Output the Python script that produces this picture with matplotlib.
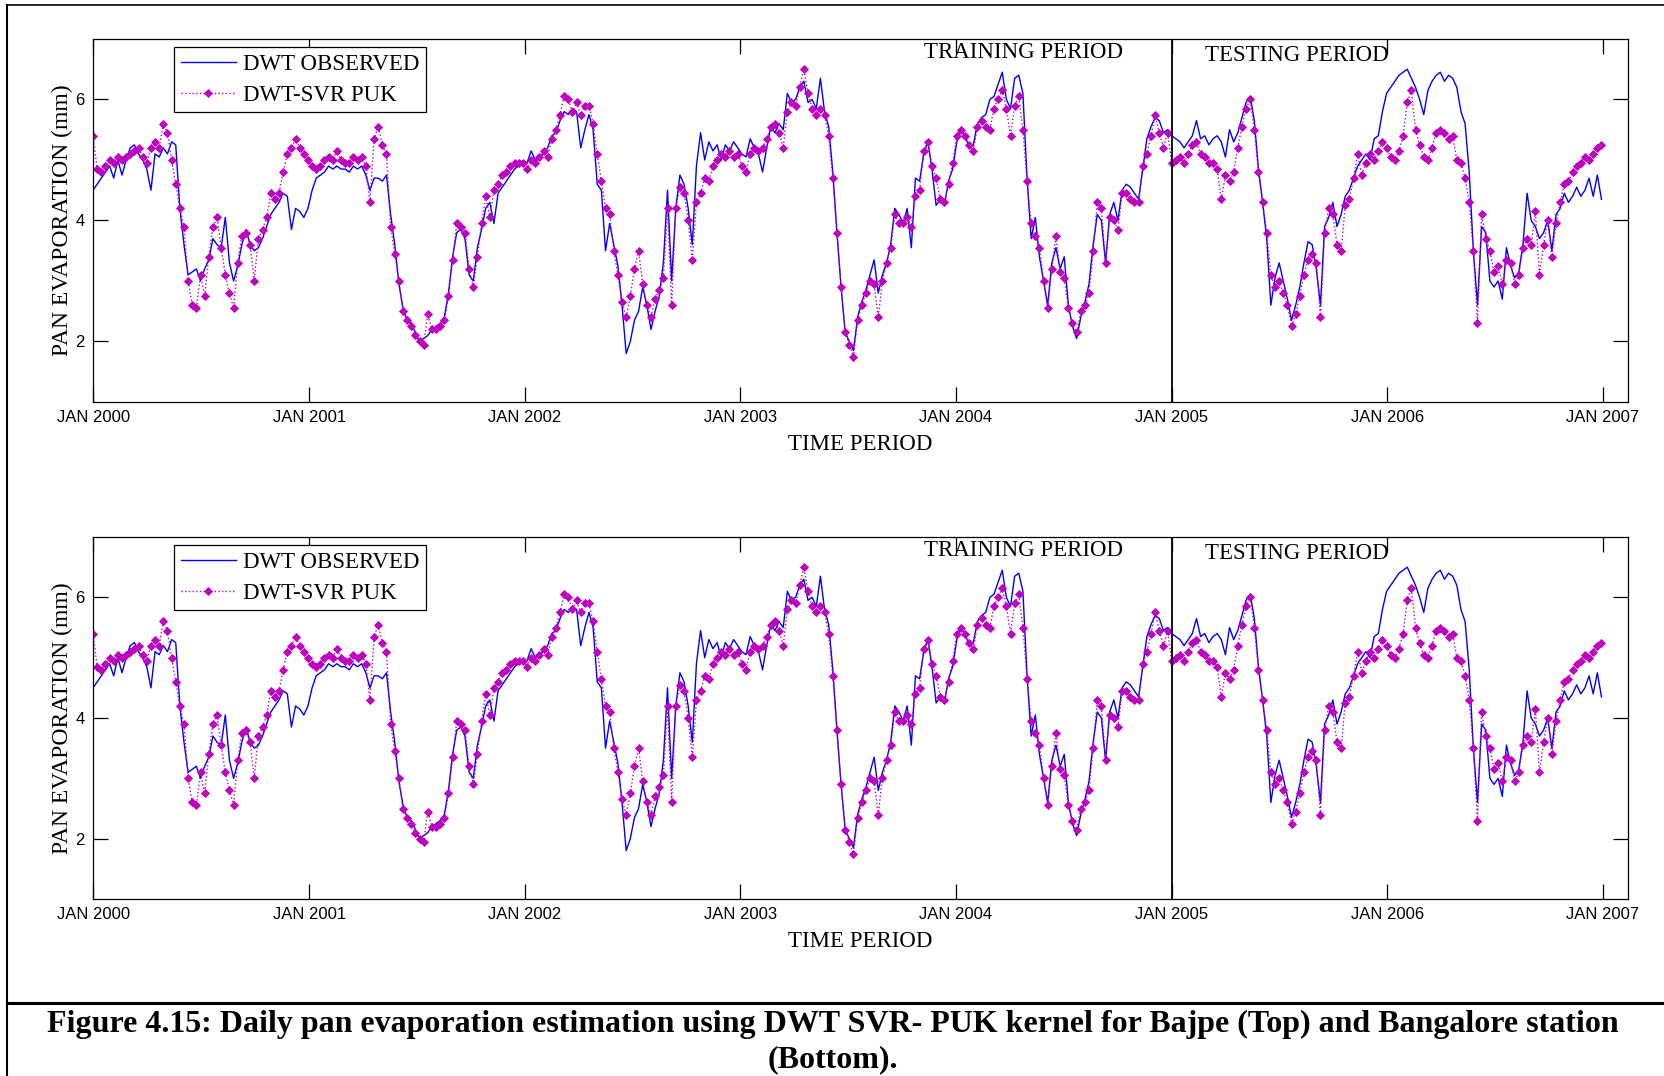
# daily pan evaporation, DWT observed vs DWT-SVR PUK (weekly readings)
import pandas as pd
import matplotlib as mpl
import matplotlib.pyplot as plt
from matplotlib.lines import Line2D

# observed values, one per week from 1 Jan 2000
evap_obs = [
    4.5, 4.6, 4.7, 4.8, 4.9, 4.7, 5.0, 4.75, 5.0, 5.2, 5.25, 5.1, 5.0,
    4.85, 4.5, 5.1, 5.05, 5.2, 5.1, 5.3, 5.25, 4.2, 3.6, 3.1, 3.15, 3.2,
    3.0, 3.2, 3.35, 3.7, 3.6, 3.55, 4.05, 3.3, 3.0, 3.25, 3.6, 3.85, 3.6,
    3.5, 3.55, 3.7, 3.9, 4.1, 4.2, 4.3, 4.45, 4.4, 3.85, 4.2, 4.15, 4.05,
    4.2, 4.5, 4.7, 4.75, 4.8, 4.9, 4.85, 4.9, 4.85,
    4.85, 4.8, 4.9, 4.85, 4.9, 4.75, 4.5, 4.7, 4.7, 4.65, 4.75, 4.1,
    3.6, 2.95, 2.55, 2.35, 2.3, 2.15, 2.0, 2.05, 2.1, 2.2, 2.25, 2.3,
    2.4, 2.8, 3.4, 3.8, 3.85, 3.7, 3.1, 3.0, 3.55, 3.85, 4.2, 4.3,
    3.95, 4.45, 4.55, 4.65, 4.75, 4.85, 4.9, 4.95, 4.95, 5.15, 5.0, 5.05,
    5.1, 5.2, 5.4, 5.45, 5.65, 5.8, 5.75, 5.85, 5.8, 5.2, 5.5, 5.75, 5.5, 4.6,
    4.5, 3.5, 3.95, 3.6, 3.25, 2.6, 1.8, 2.0, 2.35, 2.5, 2.9, 2.6,
    2.2, 2.5, 2.75, 3.3, 4.5, 3.0, 4.2, 4.75, 4.6, 4.2, 3.6, 4.9,
    5.45, 5.0, 5.3, 5.15, 5.25, 5.0, 5.25, 5.15, 5.3, 5.2, 5.1, 5.05,
    5.35, 5.2, 5.1, 4.8, 5.2, 5.55, 5.45, 5.6, 5.5, 6.1, 5.95, 6.0,
    6.2, 6.3, 5.95, 6.0, 5.85, 6.35, 5.8, 5.55, 4.8, 3.8, 2.9, 2.15,
    2.0, 1.85, 2.4, 2.65, 2.85, 3.1, 3.35, 2.8, 3.1, 3.3, 3.6, 4.2,
    4.1, 3.95, 4.2, 3.55, 4.7, 4.65, 5.1, 5.3, 4.85, 4.25, 4.35, 4.25,
    4.65, 4.85, 5.3, 5.5, 5.4, 5.2, 5.25, 5.6, 5.7, 5.75, 6.0, 6.05,
    6.25, 6.45, 6.0, 5.85, 6.35, 6.4, 6.1, 4.7, 3.7, 4.05, 3.4, 3.0,
    2.6, 3.3, 3.55, 3.2, 3.4, 2.6, 2.25, 2.05, 2.4, 2.65, 2.95, 3.6, 4.1,
    4.0, 3.3, 4.1, 4.3, 4.0, 4.5, 4.6, 4.55, 4.45, 4.35, 4.85, 5.35,
    5.55, 5.7, 5.65, 5.45, 5.5, 5.4, 5.35, 5.3, 5.2, 5.3, 5.4, 5.65,
    5.35, 5.4, 5.25, 5.35, 5.4, 5.3, 5.05, 5.5, 5.3, 5.45, 5.7, 5.95,
    6.05, 5.65, 4.85, 4.3, 3.7, 2.6, 3.05, 3.3, 3.0, 2.7, 2.35, 2.6,
    2.9, 3.3, 3.65, 3.6, 3.2, 2.6, 3.9, 4.05, 4.3, 3.9, 4.1, 4.4, 4.5, 4.7, 4.9,
    5.0, 5.1, 5.0, 5.35, 5.4, 5.8, 6.1, 6.2, 6.3, 6.4, 6.45, 6.5,
    6.35, 6.2, 6.0, 5.75, 6.15, 6.3, 6.4, 6.45, 6.3, 6.4, 6.35, 6.2,
    5.8, 5.6, 4.8, 3.5, 2.6, 3.9, 3.8, 3.0, 2.9, 3.0, 2.7, 3.55,
    3.25, 3.05, 3.15, 3.6, 4.45, 4.0, 3.9, 3.7, 3.8, 4.0, 3.5, 4.1,
    4.2, 4.45, 4.3, 4.4, 4.55, 4.4, 4.5, 4.7, 4.4, 4.75, 4.35,
]

# model estimates, same weeks
evap_svr = [
    5.4, 4.85, 4.8, 4.9, 5.0, 4.95, 5.05, 5.0, 5.05, 5.1, 5.15, 5.2, 5.05,
    4.95, 5.2, 5.3, 5.2, 5.6, 5.45, 5.0, 4.6, 4.2, 3.9, 3.0, 2.6, 2.55,
    3.1, 2.75, 3.4, 3.9, 4.05, 3.55, 3.1, 2.8, 2.55, 3.3, 3.75, 3.8, 3.6,
    3.0, 3.7, 3.85, 4.05, 4.45, 4.35, 4.45, 4.8, 5.1, 5.2, 5.35, 5.2, 5.1,
    5.0, 4.9, 4.85, 4.9, 5.0, 5.05, 5.0, 5.15, 5.0,
    4.95, 4.95, 5.05, 5.0, 5.05, 4.9, 4.3, 5.35, 5.55, 5.25, 5.1, 3.9,
    3.45, 3.0, 2.5, 2.35, 2.25, 2.1, 2.0, 1.95, 2.45, 2.2, 2.2, 2.25,
    2.35, 2.75, 3.35, 3.95, 3.9, 3.8, 3.2, 2.9, 3.4, 3.95, 4.4, 4.05,
    4.5, 4.6, 4.75, 4.8, 4.9, 4.95, 4.95, 4.95, 4.85, 5.0, 4.95, 5.05,
    5.15, 5.05, 5.35, 5.5, 5.75, 6.05, 6.0, 5.8, 5.95, 5.75, 5.9, 5.9, 5.6, 5.1,
    4.65, 4.2, 4.1, 3.5, 3.1, 2.65, 2.4, 2.75, 3.2, 3.5, 2.95, 2.6,
    2.4, 2.7, 2.85, 3.05, 4.2, 2.6, 4.2, 4.55, 4.45, 4.0, 3.35, 4.3,
    4.45, 4.7, 4.65, 4.9, 5.0, 5.1, 5.05, 5.15, 5.05, 5.1, 4.9, 4.8,
    5.1, 5.2, 5.15, 5.2, 5.35, 5.55, 5.6, 5.45, 5.2, 5.8, 5.95, 5.9,
    6.2, 6.5, 6.1, 5.85, 5.75, 5.85, 5.75, 5.4, 4.7, 3.8, 2.9, 2.15,
    1.95, 1.75, 2.35, 2.6, 2.8, 3.0, 2.95, 2.4, 3.0, 3.3, 3.55, 4.1,
    3.95, 3.95, 4.05, 3.9, 4.4, 4.5, 5.15, 5.3, 4.9, 4.7, 4.35, 4.3,
    4.6, 4.95, 5.4, 5.5, 5.4, 5.25, 5.15, 5.55, 5.65, 5.55, 5.5, 5.85,
    6.0, 6.15, 5.85, 5.4, 5.9, 6.05, 5.5, 4.65, 3.95, 3.75, 3.55, 3.0,
    2.55, 3.2, 3.75, 3.15, 3.05, 2.55, 2.3, 2.15, 2.5, 2.6, 2.8, 3.5, 4.3,
    4.2, 3.3, 4.05, 4.0, 3.85, 4.45, 4.45, 4.35, 4.3, 4.3, 4.9, 5.1,
    5.4, 5.75, 5.45, 5.2, 5.45, 4.95, 5.0, 5.05, 4.95, 5.1, 5.25, 5.3,
    5.1, 5.05, 4.95, 4.95, 4.85, 4.35, 4.75, 4.65, 4.8, 5.2, 5.55, 5.85,
    6.0, 5.5, 4.8, 4.3, 3.8, 3.1, 2.9, 3.0, 2.8, 2.6, 2.25, 2.45,
    2.75, 3.1, 3.35, 3.45, 3.3, 2.4, 3.8, 4.2, 4.1, 3.6, 3.5, 4.25, 4.35, 4.7, 5.1,
    4.75, 4.95, 5.1, 5.0, 5.15, 5.3, 5.2, 5.05, 5.0, 5.15, 5.4, 5.95,
    6.15, 5.5, 5.25, 5.05, 5.0, 5.2, 5.45, 5.5, 5.45, 5.35, 5.4, 5.0,
    4.95, 4.7, 4.3, 3.5, 2.3, 4.1, 3.7, 3.5, 3.15, 3.25, 2.95, 3.35,
    3.3, 2.95, 3.1, 3.55, 3.7, 3.6, 4.15, 3.1, 3.6, 4.0, 3.4, 3.95,
    4.3, 4.6, 4.65, 4.8, 4.9, 4.95, 5.05, 5.0, 5.1, 5.2, 5.25,
]

year_ticks = ['2000', '2001', '2002', '2003', '2004', '2005', '2006', '2007']
split_date = '2005-01-01'

assert len(evap_obs) == len(evap_svr)
dates = pd.date_range('2000-01-01', periods=len(evap_obs), freq='7D')

serif = 'Liberation Serif'
mpl.rcParams['font.family'] = 'Liberation Sans'

fig = plt.figure(figsize=(16.65, 10.76), dpi=100, facecolor='white')
boxes = [[0.0559, 0.6264, 0.9219, 0.3374], [0.0559, 0.1645, 0.9219, 0.3364]]

for rect in boxes:
    ax = fig.add_axes(rect)
    ax.plot(dates, evap_obs, color='#0000ff', lw=1.0, label='DWT OBSERVED')
    ax.plot(dates, evap_svr, color='#c000c0', ls=':', lw=1.0, marker='D',
            markersize=4.2, markeredgewidth=0.6, label='DWT-SVR PUK')
    ax.axvline(pd.Timestamp(split_date), color='black', lw=1.3)

    ax.set_xlim(pd.Timestamp('2000-01-01'), pd.Timestamp('2000-01-01') + pd.Timedelta(days=2600))
    ax.set_ylim(1, 7)
    ax.set_yticks([2, 4, 6])
    ax.set_xticks([pd.Timestamp(y + '-01-01') for y in year_ticks])
    ax.set_xticklabels(['JAN ' + y for y in year_ticks])
    ax.tick_params(direction='in', length=11, width=0.9, top=True, right=True,
                   labelsize=12, pad=6)
    for s in ax.spines.values():
        s.set_linewidth(0.9)

    ax.set_xlabel('TIME PERIOD', family=serif, fontsize=16.5, labelpad=6)
    ax.set_ylabel('PAN EVAPORATION (mm)', family=serif, fontsize=17, labelpad=2)

    ax.text(0.606, 0.962, 'TRAINING PERIOD', transform=ax.transAxes, family=serif,
            fontsize=16.5, ha='center', va='center')
    ax.text(0.784, 0.954, 'TESTING PERIOD', transform=ax.transAxes, family=serif,
            fontsize=16.5, ha='center', va='center')

    leg = ax.legend(loc='upper left', bbox_to_anchor=(0.0528, 0.978), borderaxespad=0,
                    prop={'family': serif, 'size': 16.5}, fancybox=False, framealpha=1,
                    edgecolor='black', handlelength=2.4, borderpad=0.3,
                    labelspacing=0.42, handletextpad=0.3, numpoints=1)
    leg.get_frame().set_linewidth(0.9)

# page border and caption rule
fig.add_artist(Line2D([0.0042, 0.0042], [0, 0.9954], transform=fig.transFigure,
                      color='black', lw=1.5))
fig.add_artist(Line2D([0.0042, 1], [0.9954, 0.9954], transform=fig.transFigure,
                      color='black', lw=1.2))
fig.add_artist(Line2D([0.0042, 1], [0.0678, 0.0678], transform=fig.transFigure,
                      color='black', lw=2.2))

fig.text(0.5, 0.0483, 'Figure 4.15: Daily pan evaporation estimation using DWT SVR- PUK kernel '
         'for Bajpe (Top) and Bangalore station', family=serif, weight='bold',
         fontsize=23, ha='center', va='center')
fig.text(0.5, 0.0149, '(Bottom).', family=serif, weight='bold', fontsize=23,
         ha='center', va='center')

plt.savefig('out.png', dpi=100)
